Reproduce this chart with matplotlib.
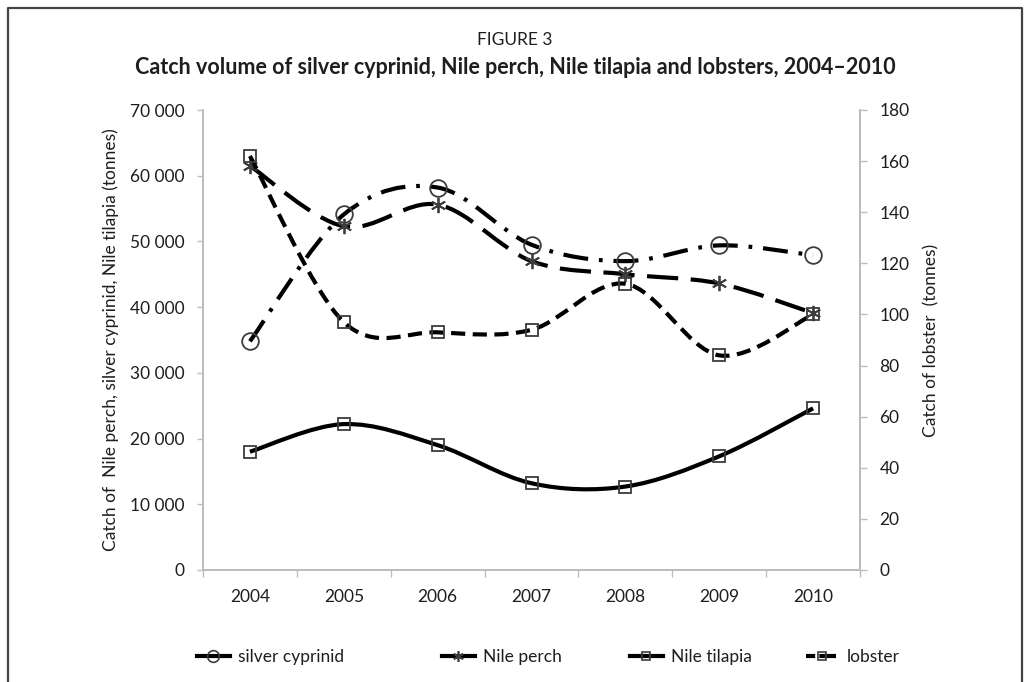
import matplotlib
matplotlib.use("Agg")
import matplotlib.pyplot as plt
from matplotlib.path import Path
from matplotlib.patches import PathPatch
from matplotlib.lines import Line2D

plt.rcParams['font.family'] = ['Lato', 'DejaVu Sans']

years = ['2004', '2005', '2006', '2007', '2008', '2009', '2010']
silver_cyprinid = [34800, 54100, 58200, 49500, 47000, 49400, 47900]
nile_perch = [61500, 52300, 55600, 47000, 45000, 43600, 39100]
nile_tilapia = [18000, 22200, 19000, 13200, 12700, 17300, 24600]
lobster = [162, 97, 93, 94, 112, 84, 100]

left_ticks = list(range(0, 70001, 10000))
right_ticks = list(range(0, 181, 20))


def smooth_path(xs, ys):
    # Excel-style smoothed line: cubic Bezier segments with Catmull-Rom handles
    n = len(xs)
    verts = [(xs[0], ys[0])]
    codes = [Path.MOVETO]
    for i in range(n - 1):
        a = max(i - 1, 0)
        b = min(i + 2, n - 1)
        c1 = (xs[i] + (xs[i + 1] - xs[a]) / 6, ys[i] + (ys[i + 1] - ys[a]) / 6)
        c2 = (xs[i + 1] - (xs[b] - xs[i]) / 6, ys[i + 1] - (ys[b] - ys[i]) / 6)
        verts += [c1, c2, (xs[i + 1], ys[i + 1])]
        codes += [Path.CURVE4] * 3
    return Path(verts, codes)


text_col = '#1e1e1e'
grid_col = '#bdbdbd'
mark_col = '#3c3c3c'
lw = 3.0

series = [
    # label, values, dashes, marker, markersize, right axis
    ('silver cyprinid', silver_cyprinid, (0, (6.0, 2.6, 0.9, 2.6)), 'o', 12, False),
    ('Nile perch', nile_perch, (0, (7.5, 3.0)), (6, 2, 0), 11, False),
    ('Nile tilapia', nile_tilapia, 'solid', 's', 9, False),
    ('lobster', lobster, (0, (3.4, 1.8)), 's', 9, True),
]
# left edge of each legend entry, in pixels
legend_x = [197, 442, 630, 806]

fig = plt.figure(figsize=(10.30, 6.82), dpi=100)
ax = fig.add_axes([203 / 1030, 1 - 570 / 682, 657 / 1030, 460 / 682])
ax2 = ax.twinx()

x = list(range(len(years)))
handles = []
for label, vals, ls, mk, ms, right in series:
    target = ax2 if right else ax
    patch = PathPatch(smooth_path(x, vals), facecolor='none', edgecolor='black',
                      lw=lw, linestyle=ls, capstyle='butt', zorder=3)
    target.add_patch(patch)
    target.plot(x, vals, linestyle='none', marker=mk, ms=ms, mfc='none',
                mec=mark_col, mew=1.3, zorder=4)
    leg_ls = (0, (2.2, 1.0, 4.0, 1.0, 0.8, 1.0)) if label == 'lobster' else 'solid'
    handles.append(Line2D([], [], color='black', lw=lw, linestyle=leg_ls, marker=mk,
                          ms=ms * 0.7, mfc='none', mec=mark_col, mew=1.2))

ax.set_xlim(-0.5, len(years) - 0.5)
ax.set_ylim(0, 70000)
ax2.set_ylim(0, 180)

ax.set_xticks(x)
ax.set_xticklabels(years)
ax.set_xticks([i - 0.5 for i in range(len(years) + 1)], minor=True)
ax.tick_params(axis='x', which='major', length=0, pad=14, labelsize=12.5, colors=text_col)
ax.tick_params(axis='x', which='minor', length=5, width=1, color=grid_col, direction='out')

ax.set_yticks(left_ticks)
ax.set_yticklabels([f'{v:,}'.replace(',', ' ') for v in left_ticks])
ax.tick_params(axis='y', length=4, width=1, color=grid_col, pad=9, labelsize=12.5,
               labelcolor=text_col)
ax2.set_yticks(right_ticks)
ax2.tick_params(axis='y', length=5, width=1, color=grid_col, pad=9, labelsize=12.5,
                labelcolor=text_col)

for a in (ax, ax2):
    a.spines['top'].set_visible(False)
    for side in ('left', 'right', 'bottom'):
        a.spines[side].set_color(grid_col)
        a.spines[side].set_linewidth(1.3)

ax.set_ylabel('Catch of  Nile perch, silver cyprinid, Nile tilapia (tonnes)',
              fontsize=12.5, color=text_col, labelpad=8)
ax2.set_ylabel('Catch of lobster  (tonnes)', fontsize=12.5, color=text_col, labelpad=10)

fig.text(0.5, 1 - 40 / 682, 'FIGURE 3', ha='center', va='center', fontsize=12.5,
         color=text_col)
fig.text(0.5, 1 - 68 / 682,
         'Catch volume of silver cyprinid, Nile perch, Nile tilapia and lobsters, 2004\u20132010',
         ha='center', va='center', fontsize=15.5, fontweight='bold', color=text_col)

for h, (label, *_), lx in zip(handles, series, legend_x):
    leg = fig.legend([h], [label], loc='center left',
                     bbox_to_anchor=(lx / 1030, 1 - 657 / 682), frameon=False,
                     fontsize=12.5, handlelength=1.9, handletextpad=0.45,
                     borderpad=0, borderaxespad=0, labelcolor=text_col)

# page frame around the figure
fig.add_artist(Line2D([8 / 1030, 8 / 1030, 1022 / 1030, 1022 / 1030],
                      [-0.05, 1 - 8 / 682, 1 - 8 / 682, -0.05],
                      color='#444444', lw=1.6, transform=fig.transFigure))

fig.savefig('out.png', dpi=100)
